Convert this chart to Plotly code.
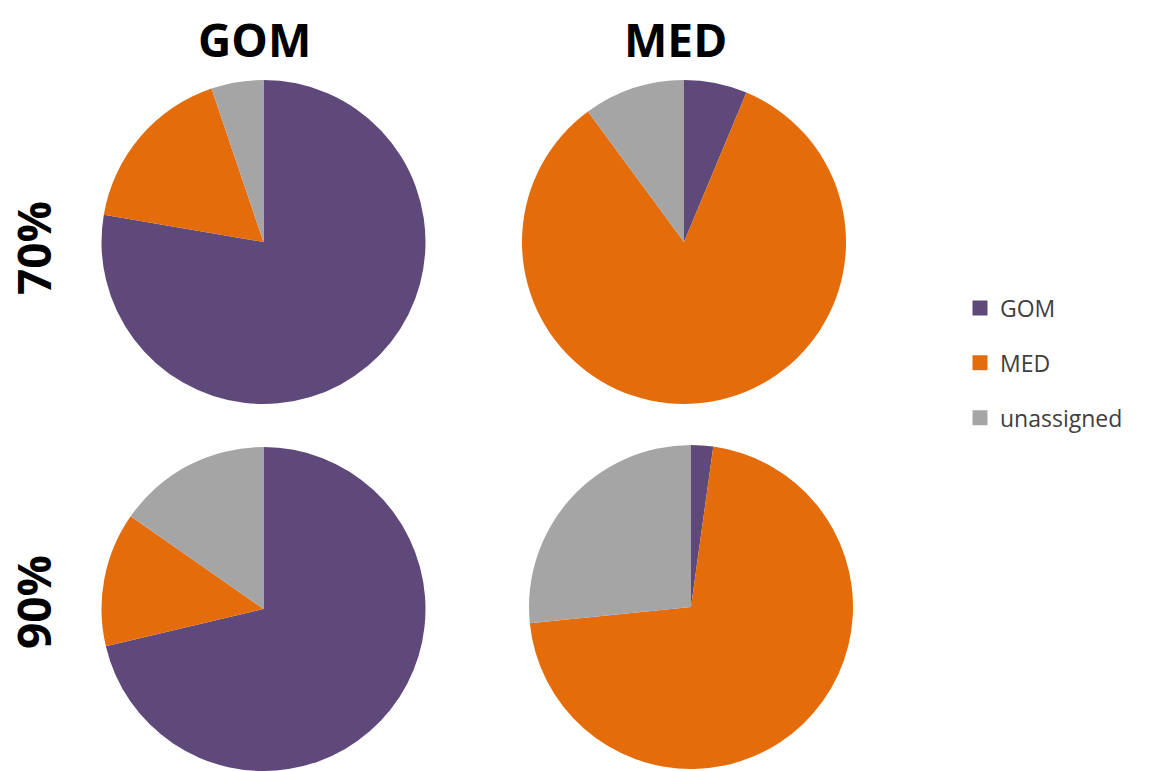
import plotly.graph_objects as go

# Assignment shares (%) per panel: GOM, MED, unassigned
categories = ["GOM", "MED", "unassigned"]
colors = ["#5F497A", "#E46C0A", "#A5A5A5"]

gom_70 = [77.7, 17.1, 5.2]
med_70 = [6.3, 83.6, 10.1]
gom_90 = [71.3, 13.4, 15.3]
med_90 = [2.2, 71.2, 26.6]

column_titles = ["GOM", "MED"]
row_titles = ["70%", "90%"]

W, H = 1152, 771


def domain(cx, cy, r):
    """Pixel centre/radius -> paper-coordinate domain."""
    return dict(x=[(cx - r) / W, (cx + r) / W],
                y=[max(0, 1 - (cy + r) / H), 1 - (cy - r) / H])


panels = [
    (gom_70, domain(263.5, 242, 162)),
    (med_70, domain(684, 242, 162)),
    (gom_90, domain(263.5, 609, 162)),
    (med_90, domain(691, 607, 162)),
]

fig = go.Figure()
for values, dom in panels:
    fig.add_trace(go.Pie(
        labels=categories,
        values=values,
        marker=dict(colors=colors, line=dict(width=0)),
        sort=False,
        direction="clockwise",
        rotation=0,
        textinfo="none",
        hoverinfo="label+percent",
        showlegend=False,
        domain=dom,
    ))

# Legend entries (one group each so they can be spaced apart)
for name, col in zip(categories, colors):
    fig.add_trace(go.Scatter(
        x=[None], y=[None], mode="markers", name=name,
        legendgroup=name,
        marker=dict(symbol="square", size=15, color=col),
    ))

font_bold = dict(family="Open Sans", size=46, color="black", weight="bold")
annotations = []
for title, x in zip(column_titles, [254, 675]):
    annotations.append(dict(text=title, x=x / W, y=1 - 39 / H, xref="paper",
                            yref="paper", showarrow=False, font=font_bold,
                            xanchor="center", yanchor="middle"))
for title, y in zip(row_titles, [248, 602]):
    annotations.append(dict(text=title, x=33 / W, y=1 - y / H, xref="paper",
                            yref="paper", showarrow=False, font=font_bold,
                            textangle=-90, xanchor="center", yanchor="middle"))

fig.update_layout(
    width=W, height=H,
    margin=dict(l=0, r=0, t=0, b=0),
    paper_bgcolor="white", plot_bgcolor="white",
    xaxis=dict(visible=False), yaxis=dict(visible=False),
    annotations=annotations,
    legend=dict(
        x=960 / W, y=1 - 363 / H, xanchor="left", yanchor="middle",
        font=dict(family="Open Sans", size=23, color="#404040"),
        tracegroupgap=22, itemclick=False, itemdoubleclick=False,
        bgcolor="rgba(0,0,0,0)",
    ),
)

fig.write_html("out.html")
